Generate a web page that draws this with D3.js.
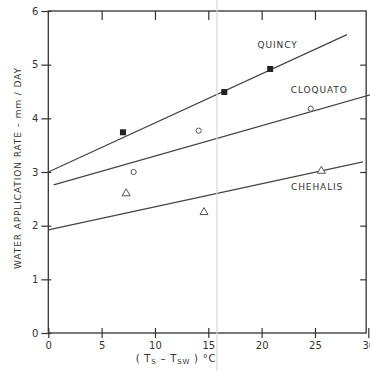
<!DOCTYPE html>
<html>
<head>
<meta charset="utf-8">
<script src="https://cdn.jsdelivr.net/npm/d3@7"></script>
<style>
  html, body { margin: 0; padding: 0; background: #fff; }
  svg { display: block; }
  text { font-family: "DejaVu Sans", sans-serif; fill: #333; }
</style>
</head>
<body>
<svg id="chart" width="370" height="371"></svg>
<script>
// Measured application rates for the three sites
const quincyX = [7.0, 16.5, 20.8];
const quincyY = [3.74, 4.49, 4.92];
const cloquatoX = [8.0, 14.1, 24.6];
const cloquatoY = [3.0, 3.77, 4.18];
const chehalisX = [7.3, 14.6, 25.6];
const chehalisY = [2.6, 2.25, 3.02];

// Fitted lines: [x0, y0, x1, y1]
const quincyFit = [0, 3.0, 28.0, 5.56];
const cloquatoFit = [0.5, 2.76, 30.2, 4.44];
const chehalisFit = [0, 1.92, 29.5, 3.19];

const seriesNames = ["QUINCY", "CLOQUATO", "CHEHALIS"];
const xTicks = [0, 5, 10, 15, 20, 25, 30];
const yTicks = [0, 1, 2, 3, 4, 5, 6];

const svg = d3.select("#chart");
const x = d3.scaleLinear().domain([0, 30]).range([48.3, 368.3]);
const y = d3.scaleLinear().domain([0, 6]).range([333, 11]);
const ink = "#333";

// Frame
svg.append("rect")
  .attr("x", x(0)).attr("y", y(6))
  .attr("width", x(29.8) - x(0)).attr("height", y(0) - y(6))
  .attr("fill", "none").attr("stroke", ink).attr("stroke-width", 1.3);

// Left axis: ticks crossing the frame
const leftAxis = svg.append("g").attr("transform", `translate(${x(0)},0)`)
  .call(d3.axisLeft(y).tickValues(yTicks).tickSize(7).tickPadding(3).tickFormat(d3.format("d")));
leftAxis.select(".domain").remove();
leftAxis.selectAll(".tick line").attr("x2", -7).attr("x1", 3).attr("stroke", ink).attr("stroke-width", 1.2);
leftAxis.selectAll(".tick text").attr("font-size", 10).attr("fill", "#444");

// Bottom axis
const bottomAxis = svg.append("g").attr("transform", `translate(0,${y(0)})`)
  .call(d3.axisBottom(x).tickValues(xTicks).tickSize(5).tickPadding(4).tickFormat(d3.format("d")));
bottomAxis.select(".domain").remove();
bottomAxis.selectAll(".tick line").attr("y1", -5).attr("y2", 5).attr("stroke", ink).attr("stroke-width", 1.2);
bottomAxis.selectAll(".tick text").attr("font-size", 10).attr("fill", "#444");

// Top axis: inward ticks
const topAxis = svg.append("g").attr("transform", `translate(0,${y(6)})`)
  .call(d3.axisTop(x).tickValues(xTicks.filter(d => d > 0 && d < 30)).tickSize(-9).tickFormat(""));
topAxis.select(".domain").remove();
topAxis.selectAll(".tick line").attr("stroke", ink).attr("stroke-width", 1.2);

// Right axis: inward ticks
const rightAxis = svg.append("g").attr("transform", `translate(${x(29.8)},0)`)
  .call(d3.axisRight(y).tickValues(yTicks.filter(d => d > 0 && d < 6)).tickSize(-6).tickFormat(""));
rightAxis.select(".domain").remove();
rightAxis.selectAll(".tick line").attr("stroke", ink).attr("stroke-width", 1.2);

// Fitted lines
[quincyFit, cloquatoFit, chehalisFit].forEach(f => {
  svg.append("line")
    .attr("x1", x(f[0])).attr("y1", y(f[1]))
    .attr("x2", x(f[2])).attr("y2", y(f[3]))
    .attr("stroke", "#444").attr("stroke-width", 1.2);
});

// Quincy: filled squares
svg.selectAll(".quincy").data(d3.zip(quincyX, quincyY)).join("rect")
  .attr("x", d => x(d[0]) - 3).attr("y", d => y(d[1]) - 3)
  .attr("width", 6).attr("height", 6).attr("fill", "#222");

// Cloquato: open circles
svg.selectAll(".cloq").data(d3.zip(cloquatoX, cloquatoY)).join("circle")
  .attr("cx", d => x(d[0])).attr("cy", d => y(d[1])).attr("r", 2.6)
  .attr("fill", "#fff").attr("stroke", "#555").attr("stroke-width", 1);

// Chehalis: open triangles
const tri = d3.symbol().type(d3.symbolTriangle).size(28);
svg.selectAll(".cheh").data(d3.zip(chehalisX, chehalisY)).join("path")
  .attr("d", tri).attr("transform", d => `translate(${x(d[0])},${y(d[1])})`)
  .attr("fill", "#fff").attr("stroke", "#555").attr("stroke-width", 1);

// Series labels
const labelPos = [[21.5, 5.31], [25.4, 4.47], [25.2, 2.66]];
seriesNames.forEach((n, i) => {
  svg.append("text")
    .attr("x", x(labelPos[i][0])).attr("y", y(labelPos[i][1]))
    .attr("text-anchor", "middle").attr("font-size", 9).attr("letter-spacing", 0.9)
    .attr("fill", "#444").text(n);
});

// Axis titles
svg.append("text")
  .attr("transform", `translate(21,${(y(0.4) + y(5.75)) / 2}) rotate(-90)`)
  .attr("text-anchor", "middle").attr("font-size", 9).attr("letter-spacing", 0.9)
  .attr("fill", "#444").text("WATER  APPLICATION RATE – mm / DAY");

const xt = svg.append("text")
  .attr("x", 176).attr("y", 362).attr("text-anchor", "middle")
  .attr("font-size", 10).attr("letter-spacing", 0.8).attr("fill", "#444");
xt.append("tspan").text("( T");
xt.append("tspan").attr("font-size", 7).attr("dy", 2).text("S");
xt.append("tspan").attr("dy", -2).text("  –  T");
xt.append("tspan").attr("font-size", 7).attr("dy", 2).text("SW");
xt.append("tspan").attr("dy", -2).text(" ) °C");

// Faint vertical crease across the sheet
svg.append("line").attr("x1", 217).attr("x2", 217).attr("y1", 0).attr("y2", 371)
  .attr("stroke", "#d8d8d8").attr("stroke-width", 1.2);
</script>
</body>
</html>
